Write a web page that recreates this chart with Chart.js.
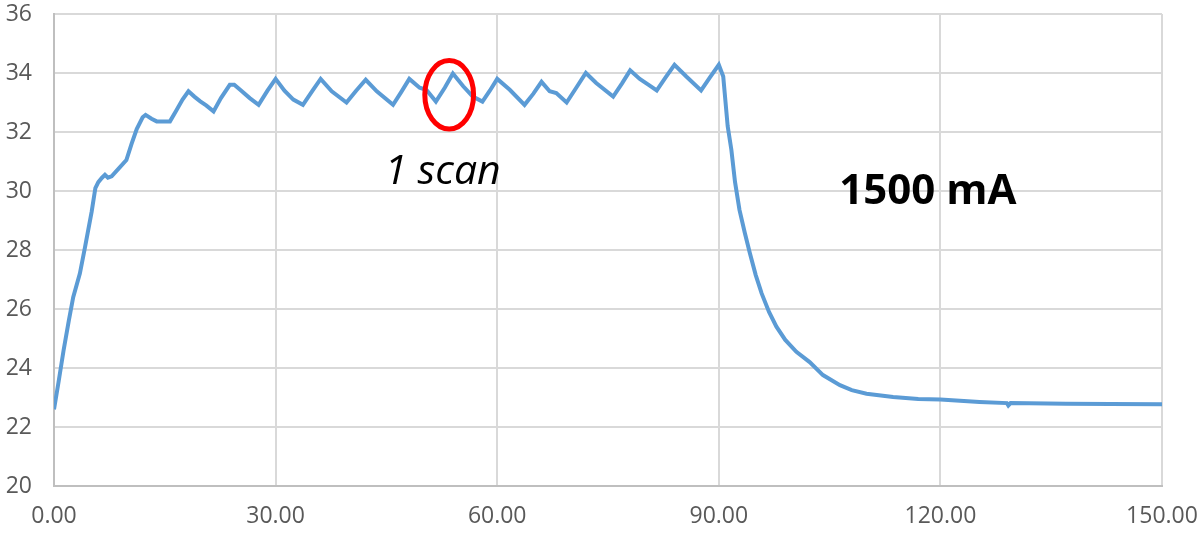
<!DOCTYPE html>
<html>
<head>
<meta charset="utf-8">
<script src="https://cdn.jsdelivr.net/npm/chart.js@4.4.1/dist/chart.umd.min.js"></script>
<style>
  html, body { margin: 0; padding: 0; background: #fff; }
  #wrap { width: 1202px; height: 534px; }
</style>
</head>
<body>
<div id="wrap"><canvas id="tempChart" width="1202" height="534"></canvas></div>
<script>
// Temperature trace
const times = [
  0, 0.6, 1.3, 2.0, 2.6, 3.5, 4.2, 5.1, 5.6, 6.0, 6.5, 6.9, 7.3, 7.8, 8.9, 9.8,
  10.5, 11.2, 12.0, 12.4, 13.2, 13.9, 15.7, 16.5, 17.4, 18.2, 19.0, 19.8, 20.6, 21.6,
  22.6, 23.8, 24.4, 25.2, 26.5, 27.7, 28.9, 30.0, 31.2, 32.4, 33.7, 35.0, 36.1, 37.6,
  39.6, 40.9, 42.2, 43.7, 45.9, 47.0, 48.1, 49.5, 50.4, 51.7, 52.9, 54.0, 55.4, 56.7,
  58.0, 59.0, 60.0, 61.7, 63.7, 64.9, 66.0, 67.1, 68.0, 69.4, 70.7, 72.0, 73.4, 75.7,
  76.9, 78.0, 79.3, 80.5, 81.6, 82.8, 84.0, 85.6, 87.6, 88.8, 90.0, 90.6, 91.2, 91.7,
  92.2, 92.8, 93.5, 94.2, 95.0, 95.8, 96.8, 97.8, 99.0, 100.5, 102.3, 104.1, 106.4, 108.0,
  110.0, 113.6, 117.0, 120.0, 125.3, 129.0, 129.2, 129.5, 137.0, 143.0, 150.0
];
const temps = [
  22.6, 23.5, 24.6, 25.6, 26.4, 27.2, 28.1, 29.3, 30.1, 30.3, 30.45, 30.55, 30.45, 30.5, 30.8, 31.05,
  31.6, 32.1, 32.5, 32.58, 32.45, 32.36, 32.36, 32.7, 33.1, 33.38, 33.2, 33.04, 32.9, 32.7,
  33.15, 33.6, 33.6, 33.43, 33.15, 32.92, 33.4, 33.8, 33.4, 33.1, 32.92, 33.4, 33.8, 33.38,
  33.0, 33.4, 33.77, 33.38, 32.92, 33.35, 33.8, 33.5, 33.43, 33.03, 33.5, 33.98, 33.55, 33.2,
  33.03, 33.4, 33.8, 33.43, 32.92, 33.3, 33.7, 33.38, 33.32, 33.0, 33.5, 34.0, 33.66, 33.2,
  33.65, 34.09, 33.8, 33.6, 33.41, 33.85, 34.28, 33.88, 33.41, 33.85, 34.28, 33.88, 32.2, 31.4,
  30.3, 29.36, 28.6, 27.9, 27.15, 26.53, 25.9, 25.4, 24.95, 24.55, 24.2, 23.76, 23.42, 23.25,
  23.13, 23.02, 22.95, 22.93, 22.85, 22.81, 22.73, 22.81, 22.79, 22.78, 22.77
];

const xTicks = [0, 30, 60, 90, 120, 150];
const yTicks = [20, 22, 24, 26, 28, 30, 32, 34, 36];

const labelFont = "'Open Sans', 'DejaVu Sans', sans-serif";

// red ring round one scan, plus the two text notes
const notesPlugin = {
  id: "notes",
  afterDatasetsDraw(chart) {
    const { ctx, scales: { x, y } } = chart;
    ctx.save();

    const cx = x.getPixelForValue(53.5);
    const cy = y.getPixelForValue(33.26);
    const rx = x.getPixelForValue(53.5 + 3.3) - cx;
    const ry = y.getPixelForValue(33.26) - y.getPixelForValue(33.26 + 1.16);
    ctx.beginPath();
    ctx.ellipse(cx, cy, rx, ry, 0, 0, Math.PI * 2);
    ctx.strokeStyle = "#ff0000";
    ctx.lineWidth = 5;
    ctx.stroke();

    ctx.fillStyle = "#000";
    ctx.textAlign = "center";
    ctx.textBaseline = "middle";
    ctx.font = "italic 41px " + labelFont;
    ctx.fillText("1 scan", x.getPixelForValue(52.6), y.getPixelForValue(30.62));
    ctx.font = "bold 42px " + labelFont;
    ctx.fillText("1500 mA", x.getPixelForValue(118.3), y.getPixelForValue(29.95));
    ctx.restore();
  }
};

const ctx = document.getElementById("tempChart").getContext("2d");
new Chart(ctx, {
  type: "line",
  data: {
    datasets: [{
      data: times.map((t, i) => ({ x: t, y: temps[i] })),
      borderColor: "#5b9bd5",
      borderWidth: 4,
      pointRadius: 0,
      tension: 0,
      fill: false
    }]
  },
  options: {
    responsive: false,
    animation: false,
    layout: { padding: { top: 14, right: 40, left: 0, bottom: 0 } },
    plugins: { legend: { display: false }, tooltip: { enabled: false } },
    scales: {
      x: {
        type: "linear",
        min: 0,
        max: 150,
        afterBuildTicks: s => { s.ticks = xTicks.map(v => ({ value: v })); },
        afterFit: s => { s.height = 48; s.paddingLeft = 0; s.paddingRight = 0; },
        grid: { color: "#d9d9d9", lineWidth: 2, drawTicks: false },
        border: { color: "#bfbfbf", width: 2 },
        ticks: {
          padding: 17,
          color: "#595959",
          font: { family: labelFont, size: 23 },
          maxRotation: 0,
          callback: v => v.toFixed(2)
        }
      },
      y: {
        min: 20,
        max: 36,
        afterBuildTicks: s => { s.ticks = yTicks.map(v => ({ value: v })); },
        afterFit: s => { s.width = 54; s.paddingTop = 0; s.paddingBottom = 0; },
        grid: { color: "#d9d9d9", lineWidth: 2, drawTicks: false },
        border: { color: "#bfbfbf", width: 2 },
        ticks: {
          padding: 22,
          color: "#595959",
          font: { family: labelFont, size: 23 }
        }
      }
    }
  },
  plugins: [notesPlugin]
});
</script>
</body>
</html>
